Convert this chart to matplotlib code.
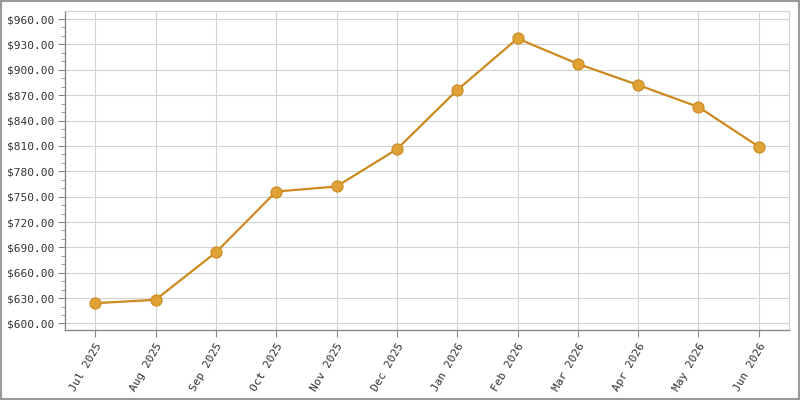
import matplotlib
matplotlib.use("Agg")
import matplotlib.pyplot as plt
from matplotlib.ticker import MultipleLocator, FuncFormatter
from matplotlib.patches import Rectangle

months = ["Jul 2025", "Aug 2025", "Sep 2025", "Oct 2025", "Nov 2025", "Dec 2025",
          "Jan 2026", "Feb 2026", "Mar 2026", "Apr 2026", "May 2026", "Jun 2026"]
values = [624, 628, 684, 756, 762, 806, 876, 937, 907, 882, 856, 809]

fig = plt.figure(figsize=(8, 4), dpi=100)
ax = fig.add_axes([0.08125, 0.175, 0.905, 0.7975])

x = list(range(len(months)))
ax.plot(x, values, color="#CC8A1E", linewidth=1.6, marker="o", markersize=8,
        markerfacecolor="#E0A236", markeredgecolor="#C98A20", markeredgewidth=0.8, zorder=3)

ax.set_xlim(-0.5, len(months) - 0.5)
ax.set_ylim(592.3, 969.5)
ax.yaxis.set_major_locator(MultipleLocator(30))
ax.yaxis.set_minor_locator(MultipleLocator(10))
ax.yaxis.set_major_formatter(FuncFormatter(lambda v, p: f"${v:,.2f}"))
ax.set_xticks(x)
ax.set_xticklabels(months, rotation=60, ha="right", rotation_mode="anchor")

ax.grid(True, which="major", color="#d3d3d3", linewidth=0.8)
ax.set_axisbelow(True)
for s in ["top", "right"]:
    ax.spines[s].set_color("#d3d3d3")
    ax.spines[s].set_linewidth(0.8)
for s in ["left", "bottom"]:
    ax.spines[s].set_color("#888888")
    ax.spines[s].set_linewidth(1.0)

ax.tick_params(axis="both", which="major", length=5, color="#888888", labelsize=8,
               labelcolor="#333333", pad=3)
ax.tick_params(axis="y", which="minor", length=3, color="#888888")
for lbl in ax.get_xticklabels() + ax.get_yticklabels():
    lbl.set_fontfamily("DejaVu Sans Mono")

fig.patches.append(Rectangle((0.0015, 0.003), 0.997, 0.994, transform=fig.transFigure,
                             fill=False, edgecolor="#999999", linewidth=1.5))

fig.savefig("out.png", dpi=100)
